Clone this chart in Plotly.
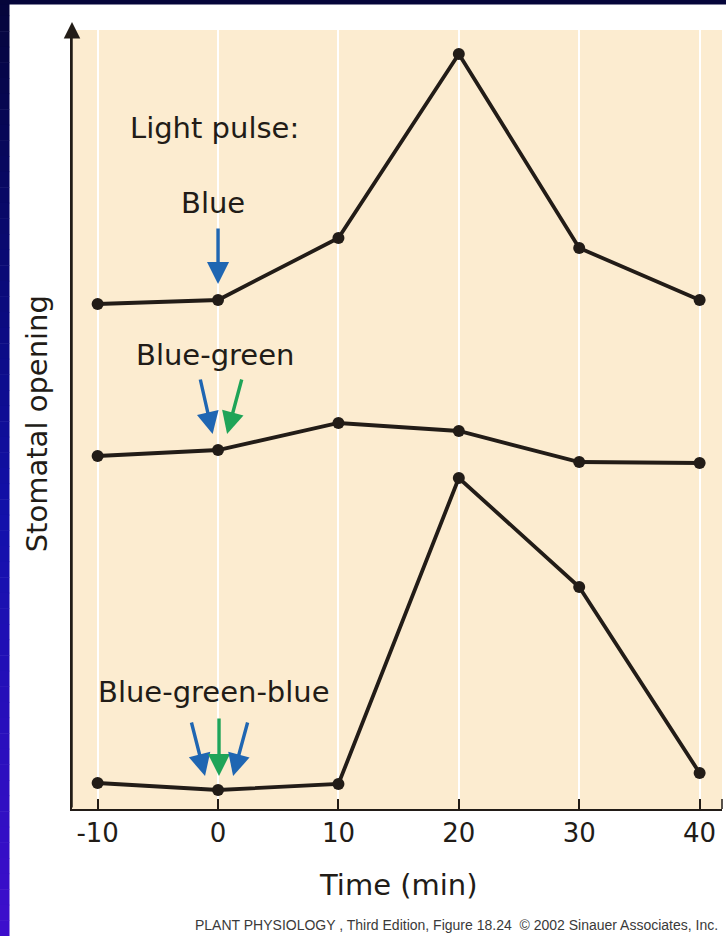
import plotly.graph_objects as go

# Time after start of light treatment (min)
time_min = [-10, 0, 10, 20, 30, 40]

# Stomatal opening (arbitrary units) for each light-pulse sequence
blue = [50.5, 50.9, 57.1, 75.5, 56.1, 50.9]
blue_green = [35.3, 35.9, 38.6, 37.8, 34.7, 34.6]
blue_green_blue = [2.6, 1.9, 2.5, 33.1, 22.2, 3.6]

tick_vals = [-10, 0, 10, 20, 30, 40]
tick_text = ["-10", "0", "10", "20", "30", "40"]

INK = "#221c17"
BEIGE = "#fcecd0"
ARROW_BLUE = "#1f66b2"
ARROW_GREEN = "#1fa458"
FONT = "DejaVu Sans"

X_RANGE = [-12.13, 41.86]
Y_RANGE = [0, 77.9]

fig = go.Figure()

for series in (blue, blue_green, blue_green_blue):
    fig.add_trace(go.Scatter(
        x=time_min, y=series, mode="lines+markers",
        line=dict(color=INK, width=3.8),
        marker=dict(color=INK, size=12),
        showlegend=False, hoverinfo="skip",
    ))

# Pulse arrows: (tail_x, tail_y, tip_x, tip_y, colour)
pulse_arrows = [
    (0.0, 58.2, 0.0, 52.5, ARROW_BLUE),
    (-1.5, 43.1, -0.45, 37.5, ARROW_BLUE),
    (2.0, 43.1, 0.75, 37.5, ARROW_GREEN),
    (-2.24, 8.8, -1.08, 3.3, ARROW_BLUE),
    (0.08, 9.2, 0.08, 3.3, ARROW_GREEN),
    (2.49, 8.8, 1.25, 3.3, ARROW_BLUE),
]

annotations = []
for tx, ty, hx, hy, col in pulse_arrows:
    annotations.append(dict(
        x=hx, y=hy, xref="x", yref="y", ax=tx, ay=ty, axref="x", ayref="y",
        showarrow=True, arrowhead=2, arrowsize=1.3, arrowwidth=3.4,
        arrowcolor=col, text="",
    ))

labels = [
    ("Light pulse:", -7.48, 68.1, "left"),
    ("Blue", -0.4, 60.6, "center"),
    ("Blue-green", -0.25, 45.4, "center"),
    ("Blue-green-blue", -0.33, 11.7, "center"),
]
for txt, lx, ly, anchor in labels:
    annotations.append(dict(
        x=lx, y=ly, xref="x", yref="y", text=txt, showarrow=False,
        xanchor=anchor, yanchor="middle",
        font=dict(family=FONT, size=29, color=INK),
    ))

# Axis titles and credit line
annotations += [
    dict(x=0.502, y=-0.098, xref="paper", yref="paper", text="Time (min)",
         showarrow=False, xanchor="center", yanchor="middle",
         font=dict(family=FONT, size=29, color=INK)),
    dict(x=-0.054, y=0.495, xref="paper", yref="paper", text="Stomatal opening",
         showarrow=False, textangle=-90, xanchor="center", yanchor="middle",
         font=dict(family=FONT, size=29, color=INK)),
    dict(x=0.997, y=-0.149, xref="paper", yref="paper",
         text="PLANT PHYSIOLOGY , Third Edition, Figure 18.24  © 2002 Sinauer Associates, Inc.",
         showarrow=False, xanchor="right", yanchor="middle",
         font=dict(family="Liberation Sans", size=14, color="#3a3a3a")),
    # arrowhead on the vertical axis
    dict(x=0, y=1.0103, xref="paper", yref="paper", ax=0, ay=787,
         showarrow=True, arrowhead=2, arrowsize=2.2, arrowwidth=1.5,
         arrowcolor=INK, text=""),
]

# Dark frame on the top and left edges, shaded from navy to violet
PLOT_W, PLOT_H, M_L, M_T, H = 650, 779, 72, 30, 936

def py(p):
    return (M_T + PLOT_H - p) / PLOT_H

def px(p):
    return (p - M_L) / PLOT_W

stops = [(0.0, (5, 5, 58)), (0.3, (10, 10, 120)), (0.55, (18, 16, 170)), (1.0, (62, 14, 205))]

def frame_colour(t):
    for (t0, c0), (t1, c1) in zip(stops, stops[1:]):
        if t <= t1:
            f = (t - t0) / (t1 - t0)
            return "rgb(%d,%d,%d)" % tuple(round(a + (b - a) * f) for a, b in zip(c0, c1))
    return "rgb(%d,%d,%d)" % stops[-1][1]

shapes = []
n_strips = 60
for i in range(n_strips):
    y0p = H * i / n_strips
    y1p = H * (i + 1) / n_strips
    shapes.append(dict(
        type="rect", xref="paper", yref="paper", layer="below",
        x0=px(0), x1=px(9.5), y0=py(y1p + 0.5), y1=py(y0p),
        fillcolor=frame_colour((i + 0.5) / n_strips), line=dict(width=0),
    ))
shapes.append(dict(
    type="rect", xref="paper", yref="paper", layer="below",
    x0=px(0), x1=px(726), y0=py(4.5), y1=py(0),
    fillcolor="rgb(5,5,58)", line=dict(width=0),
))
# end cap of the time axis
shapes.append(dict(
    type="line", xref="paper", yref="paper", x0=1, x1=1, y0=0, y1=10 / PLOT_H,
    line=dict(color=INK, width=1.5),
))

fig.update_layout(
    width=726, height=936,
    margin=dict(l=M_L, r=4, t=M_T, b=127),
    paper_bgcolor="white", plot_bgcolor=BEIGE,
    annotations=annotations, shapes=shapes,
    xaxis=dict(
        range=X_RANGE, tickvals=tick_vals, ticktext=tick_text,
        ticks="inside", ticklen=10, tickwidth=1.5, tickcolor=INK,
        showline=True, linecolor=INK, linewidth=1.5,
        showgrid=True, gridcolor="white", gridwidth=2, zeroline=False,
        tickfont=dict(family=FONT, size=26, color=INK),
        fixedrange=True,
    ),
    yaxis=dict(
        range=Y_RANGE, showticklabels=False, ticks="",
        showline=True, linecolor=INK, linewidth=1.5,
        showgrid=False, zeroline=False, fixedrange=True,
    ),
)

fig.write_html("out.html")
